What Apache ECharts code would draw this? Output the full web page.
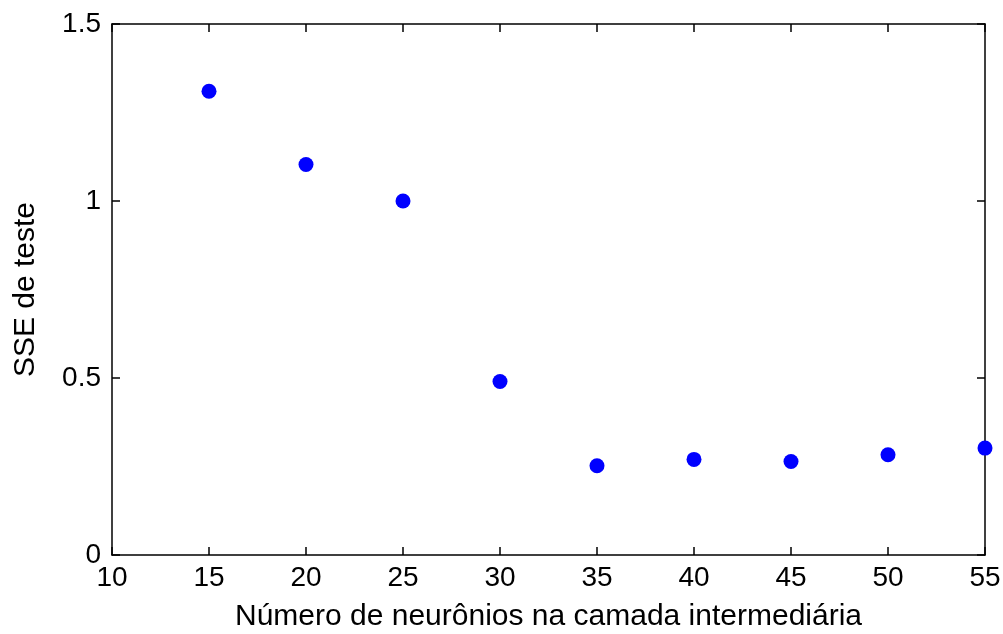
<!DOCTYPE html>
<html>
<head>
<meta charset="utf-8">
<script src="https://cdn.jsdelivr.net/npm/echarts@6/dist/echarts.min.js"></script>
<style>
  html, body { margin: 0; padding: 0; background: #fff; }
  #chart { width: 1003px; height: 634px; }
</style>
</head>
<body>
<div id="chart"></div>
<script>
// Hidden-layer neuron counts and the test SSE for each network
const neurons = [15, 20, 25, 30, 35, 40, 45, 50, 55];
const sseTest = [1.31, 1.103, 1.0, 0.49, 0.252, 0.27, 0.264, 0.283, 0.302];

const xTitle = 'Número de neurônios na camada intermediária';
const yTitle = 'SSE de teste';

const FONT = '"Liberation Sans", Arial, Helvetica, sans-serif';
const lineStyle = { color: '#000', width: 1.5 };

function xAxisDef(pos, showLabels) {
  return {
    type: 'value', position: pos, min: 10, max: 55, interval: 5,
    axisLine: { show: true, onZero: false, lineStyle },
    axisTick: { show: true, inside: true, length: 8, lineStyle },
    axisLabel: { show: showLabels, color: '#000', fontFamily: FONT, fontSize: 28, margin: 9 },
    splitLine: { show: false },
    name: showLabels ? xTitle : '', nameLocation: 'middle', nameGap: 47,
    nameTextStyle: { color: '#000', fontFamily: FONT, fontSize: 30 }
  };
}
function yAxisDef(pos, showLabels) {
  return {
    type: 'value', position: pos, min: 0, max: 1.5, interval: 0.5,
    axisLine: { show: true, onZero: false, lineStyle },
    axisTick: { show: true, inside: true, length: 8, lineStyle },
    axisLabel: { show: showLabels, color: '#000', fontFamily: FONT, fontSize: 28, margin: 11 },
    splitLine: { show: false },
    name: showLabels ? yTitle : '', nameLocation: 'middle', nameGap: 71,
    nameTextStyle: { color: '#000', fontFamily: FONT, fontSize: 30 }
  };
}

const chart = echarts.init(document.getElementById('chart'), null, { renderer: 'canvas' });
chart.setOption({
  animation: false,
  backgroundColor: '#fff',
  grid: { left: 112, right: 18, top: 24, bottom: 79, containLabel: false, outerBoundsMode: 'none' },
  xAxis: [xAxisDef('bottom', true), xAxisDef('top', false)],
  yAxis: [yAxisDef('left', true), yAxisDef('right', false)],
  series: [{
    type: 'scatter',
    xAxisIndex: 0, yAxisIndex: 0,
    data: neurons.map((n, i) => [n, sseTest[i]]),
    symbol: 'circle',
    symbolSize: 15,
    clip: false,
    itemStyle: { color: '#0000ff', opacity: 1 }
  }]
});
</script>
</body>
</html>
